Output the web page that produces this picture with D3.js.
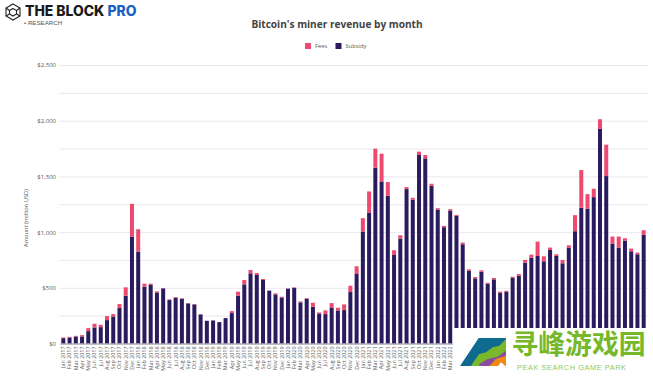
<!DOCTYPE html>
<html>
<head>
<meta charset="utf-8">
<script src="https://cdn.jsdelivr.net/npm/d3@7"></script>
<style>
html, body { margin: 0; padding: 0; background: #fff; }
svg { display: block; }
</style>
</head>
<body>
<svg id="chart" width="653" height="378"></svg>
<script>
const monthNames = ["Jan", "Feb", "Mar", "Apr", "May", "Jun", "Jul", "Aug", "Sep", "Oct", "Nov", "Dec"];
const years = [2017, 2018, 2019, 2020, 2021, 2022, 2023, 2024];
const months = years.flatMap(y => monthNames.map(m => `${m} ${y}`)).slice(0, 94);

const subsidy = [
    48, 54, 63, 63, 111, 144, 147, 210, 243, 318, 429, 960,
    825, 510, 525, 459, 495, 390, 411, 402, 360, 351, 261, 204,
    207, 192, 228, 273, 429, 531, 630, 615, 570, 474, 441, 414,
    492, 498, 369, 402, 330, 270, 264, 324, 297, 300, 462, 624,
    1005, 1176, 1578, 1455, 1326, 795, 942, 1386, 1290, 1692, 1662, 1416,
    1203, 1044, 1194, 1146, 891, 654, 585, 645, 537, 576, 453, 465,
    591, 609, 726, 771, 786, 738, 840, 786, 720, 858, 1008, 1218,
    1209, 1314, 1926, 1503, 897, 861, 924, 828, 801, 975
];
const fees = [
    6, 6, 6, 12, 27, 33, 21, 36, 21, 36, 75, 294,
    201, 27, 12, 9, 3, 6, 6, 3, 3, 3, 3, 0,
    0, 0, 0, 18, 36, 39, 30, 18, 9, 3, 9, 6,
    3, 6, 9, 6, 36, 9, 33, 39, 24, 51, 57, 69,
    120, 189, 171, 249, 123, 42, 30, 18, 18, 30, 30, 18,
    12, 12, 12, 9, 15, 12, 12, 12, 9, 12, 12, 9,
    9, 15, 24, 27, 129, 45, 21, 15, 30, 24, 144, 339,
    132, 75, 87, 282, 63, 99, 21, 24, 15, 42
];
const yTicks = [0, 250, 500, 750, 1000, 1250, 1500, 1750, 2000, 2250, 2500];
const legendItems = ["Fees", "Subsidy"];

const rows = months.map((m, i) => ({ month: m, Subsidy: subsidy[i], Fees: fees[i] }));
const colors = d3.scaleOrdinal(["Fees", "Subsidy"], ["#ee4a70", "#2a1b5f"]);
const textFont = "'Open Sans', sans-serif";

const svg = d3.select("#chart");

const xScale = d3.scaleBand().domain(months).range([60.2, 646.8]).paddingInner(0.36).paddingOuter(0.18);
const yScale = d3.scaleLinear().domain([0, 2500]).range([343.5, 65]);

// gridlines + y labels
const yAxis = d3.axisLeft(yScale)
    .tickValues(yTicks)
    .tickSize(-589)
    .tickPadding(3)
    .tickFormat(d => d % 500 === 0 ? "$" + d3.format(",")(d) : "");
svg.append("g")
    .attr("transform", "translate(59,0)")
    .call(yAxis)
    .call(g => g.select(".domain").remove())
    .call(g => g.selectAll(".tick line").attr("stroke", "#e9e9ee"))
    .call(g => g.selectAll("text").attr("fill", "#5a5a5a").attr("font-size", 6).attr("font-family", textFont));

svg.append("text")
    .attr("transform", "translate(28,218) rotate(-90)")
    .attr("text-anchor", "middle")
    .attr("font-size", 5.8)
    .attr("font-family", textFont)
    .attr("fill", "#5a5a5a")
    .text("Amount (million USD)");

// bars
const series = d3.stack().keys(["Subsidy", "Fees"])(rows);
svg.selectAll(".bar")
    .data(series)
    .enter().append("g")
    .attr("class", "bar")
    .attr("fill", d => colors(d.key))
    .selectAll("rect")
    .data(d => d)
    .enter().append("rect")
    .attr("x", d => xScale(d.data.month))
    .attr("width", xScale.bandwidth())
    .attr("y", d => yScale(d[1]))
    .attr("height", d => yScale(d[0]) - yScale(d[1]));

// x axis
const xAxis = d3.axisBottom(xScale).tickSize(0).tickPadding(3);
svg.append("g")
    .attr("transform", "translate(0,343.5)")
    .call(xAxis)
    .call(g => g.select(".domain").attr("stroke", "#8a8a96"))
    .call(g => g.selectAll("text")
        .attr("fill", "#5a5a5a")
        .attr("font-size", 5.4)
        .attr("font-family", textFont)
        .attr("text-anchor", "end")
        .attr("transform", "rotate(-90)")
        .attr("x", -3)
        .attr("y", 0)
        .attr("dy", "0.35em"));

// title
svg.append("text")
    .attr("x", 337)
    .attr("y", 28)
    .attr("text-anchor", "middle")
    .attr("font-size", 10.1)
    .attr("font-weight", 700)
    .attr("font-family", textFont)
    .attr("fill", "#444")
    .text("Bitcoin's miner revenue by month");

// legend
const legendX = d3.scaleOrdinal(legendItems, [305, 335.5]);
const legend = svg.selectAll(".legend")
    .data(legendItems)
    .enter().append("g")
    .attr("class", "legend")
    .attr("transform", d => `translate(${legendX(d)},43)`);
legend.append("rect").attr("width", 6).attr("height", 6).attr("fill", d => colors(d));
legend.append("text")
    .attr("x", 10)
    .attr("y", 5.4)
    .attr("font-size", 5.8)
    .attr("font-family", textFont)
    .attr("fill", "#5a5a5a")
    .text(d => d);

// brand header
const logo = svg.append("g").attr("fill", "none").attr("stroke", "#222").attr("stroke-width", 1.1);
logo.append("polygon").attr("points", "13,4 20,8 20,16 13,20 6,16 6,8");
logo.append("polygon").attr("points", "13,8.5 16.5,10.5 16.5,14 13,16 9.5,14 9.5,10.5");
logo.append("path").attr("d", "M6,8L9.5,10.5M20,8L16.5,10.5M6,16L9.5,14M20,16L16.5,14");
const brand = svg.append("text")
    .attr("x", 25)
    .attr("y", 15.5)
    .attr("font-size", 13.9)
    .attr("font-weight", 800)
    .attr("font-family", "Inter, 'Liberation Sans', sans-serif")
    .attr("fill", "#1a1a1a");
brand.append("tspan").text("THE BLOCK ");
brand.append("tspan").attr("fill", "#1c5fc4").text("PRO");
svg.append("text")
    .attr("x", 24)
    .attr("y", 24.5)
    .attr("font-size", 6.2)
    .attr("font-family", "'Liberation Sans', sans-serif")
    .attr("fill", "#555")
    .text("• RESEARCH");

// watermark in the lower right corner
const mark = svg.append("g");
mark.append("rect").attr("x", 453).attr("y", 328).attr("width", 200).attr("height", 50).attr("fill", "#fff");
mark.append("polygon").attr("points", "460,366 478.7,338 506,338 506,366").attr("fill", "#0f6a8f");
mark.append("polygon").attr("points", "471,366 474.5,360.5 479.3,354 486,352.3 492.7,347.3 499.3,345.7 506,339 506,366").attr("fill", "#78b82a");
mark.append("polygon").attr("points", "479.3,366 479.3,364 487.7,359 497.7,356.7 506,350.7 506,366").attr("fill", "#8a4a9e");
mark.append("polygon").attr("points", "489.3,366 496,359 506,355.7 506,366").attr("fill", "#f08a12");
mark.append("polygon").attr("points", "497.7,366.5 501,362.3 506,366.5").attr("fill", "#fff");
svg.append("text")
    .attr("x", 511.5)
    .attr("y", 354)
    .attr("font-size", 26.8)
    .attr("font-weight", 700)
    .attr("font-family", "'Noto Sans CJK SC', sans-serif")
    .attr("fill", "#76b82a")
    .text("寻峰游戏园");
svg.append("text")
    .attr("x", 517)
    .attr("y", 370)
    .attr("font-size", 7.4)
    .attr("letter-spacing", 0.55)
    .attr("font-family", "'Liberation Sans', sans-serif")
    .attr("fill", "#93c95c")
    .text("PEAK SEARCH GAME PARK");
</script>
</body>
</html>
